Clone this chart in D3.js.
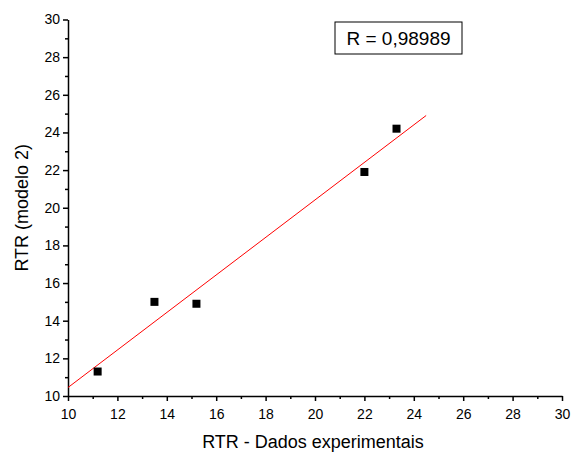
<!DOCTYPE html>
<html>
<head>
<meta charset="utf-8">
<script src="https://cdn.jsdelivr.net/npm/d3@7"></script>
<style>
  body { margin: 0; background: #fff; }
  svg { font-family: "Liberation Sans", Arial, sans-serif; }
</style>
</head>
<body>
<div id="chart"></div>
<script>
// data
const xVals = [11.2, 13.5, 15.2, 22.0, 23.3]
const yVals = [11.3, 15.0, 14.9, 21.9, 24.2]
const fitX = [10, 24.5]
const fitY = [10.45, 24.9]
const xTicks = [10, 12, 14, 16, 18, 20, 22, 24, 26, 28, 30]
const yTicks = [10, 12, 14, 16, 18, 20, 22, 24, 26, 28, 30]
const labelR = "R = 0,98989"

let width = 571, height = 453
let margin = { top: 19.5, right: 9, bottom: 57, left: 68 }

let svg = d3.select("#chart").append("svg")
    .attr("width", width)
    .attr("height", height)

let x = d3.scaleLinear().domain([10, 30]).range([margin.left, width - margin.right])
let y = d3.scaleLinear().domain([10, 30]).range([height - margin.bottom, margin.top])

let minorX = d3.range(11, 30, 2)
let minorY = d3.range(11, 30, 2)

// x axis
let xAx = svg.append("g")
    .attr("transform", "translate(0," + y(10) + ")")
xAx.append("g")
    .call(d3.axisBottom(x).tickValues(minorX).tickSize(3).tickFormat(""))
    .call(g => g.select(".domain").remove())
xAx.append("g")
    .call(d3.axisBottom(x).tickValues(xTicks).tickSize(5).tickSizeOuter(0).tickFormat(d3.format("d")))
xAx.selectAll("line, path").attr("stroke", "#000").attr("stroke-width", 1.5)
xAx.selectAll("text").attr("font-size", 14).attr("font-family", "Liberation Sans, Arial").attr("dy", "1.05em")

// y axis
let yAx = svg.append("g")
    .attr("transform", "translate(" + x(10) + ",0)")
yAx.append("g")
    .call(d3.axisLeft(y).tickValues(minorY).tickSize(3).tickFormat(""))
    .call(g => g.select(".domain").remove())
yAx.append("g")
    .call(d3.axisLeft(y).tickValues(yTicks).tickSize(5).tickSizeOuter(0).tickFormat(d3.format("d")))
yAx.selectAll("line, path").attr("stroke", "#000").attr("stroke-width", 1.5)
yAx.selectAll("text").attr("font-size", 14).attr("font-family", "Liberation Sans, Arial")

// fitted line
svg.append("line")
    .attr("x1", x(fitX[0])).attr("y1", y(fitY[0]))
    .attr("x2", x(fitX[1])).attr("y2", y(fitY[1]))
    .attr("stroke", "#ff0000")
    .attr("stroke-width", 1)

// points
let pts = xVals.map((d, i) => ({ x: d, y: yVals[i] }))
let sz = 8
svg.selectAll("rect.pt")
    .data(pts)
    .enter()
    .append("rect")
    .attr("class", "pt")
    .attr("x", d => x(d.x) - sz / 2)
    .attr("y", d => y(d.y) - sz / 2)
    .attr("width", sz)
    .attr("height", sz)
    .attr("fill", "#000")

// axis titles
svg.append("text")
    .attr("x", 313)
    .attr("y", 448)
    .attr("text-anchor", "middle")
    .attr("font-size", 18)
    .text("RTR - Dados experimentais")

svg.append("text")
    .attr("transform", "translate(28," + (y(20)) + ")rotate(-90)")
    .attr("text-anchor", "middle")
    .attr("font-size", 18)
    .text("RTR (modelo 2)")

// R box
svg.append("rect")
    .attr("x", 335).attr("y", 22)
    .attr("width", 127).attr("height", 32)
    .attr("fill", "#fff")
    .attr("stroke", "#000")
    .attr("stroke-width", 1)
svg.append("text")
    .attr("x", 398.5).attr("y", 45)
    .attr("text-anchor", "middle")
    .attr("font-size", 19)
    .text(labelR)
</script>
</body>
</html>
